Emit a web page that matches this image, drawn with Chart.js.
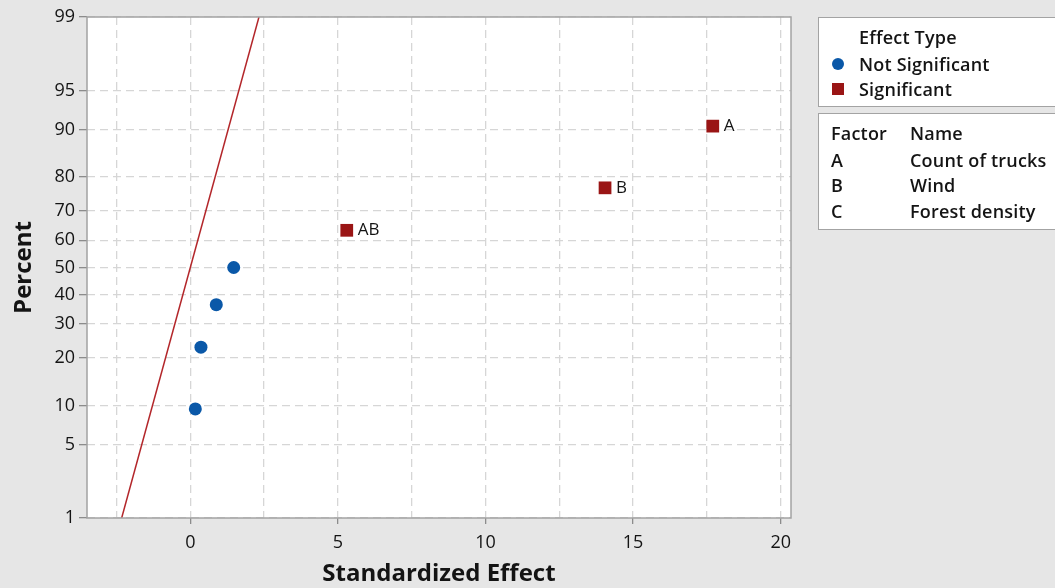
<!DOCTYPE html>
<html>
<head>
<meta charset="utf-8">
<script src="https://cdn.jsdelivr.net/npm/chart.js@4.4.1/dist/chart.umd.min.js"></script>
<style>
  html, body { margin: 0; padding: 0; background: #e6e6e6; }
  #wrap { position: relative; width: 1055px; height: 588px; overflow: hidden; font-family: "Open Sans", "Noto Sans", sans-serif; color: #141414; }
  #chart { position: absolute; left: 0; top: 0; }
  .box { position: absolute; left: 818px; width: 260px; background: #fff; border: 1.5px solid #a3a3a3; box-sizing: border-box; }
  .txt { position: absolute; font-size: 18px; font-weight: 600; line-height: 22px; white-space: nowrap; transform: translateY(-50%); letter-spacing: 0.2px; }
  .mk { position: absolute; transform: translate(-50%, -50%); }
</style>
</head>
<body>
<div id="wrap">
  <canvas id="chart" width="1055" height="588"></canvas>
  <div class="box" style="top:17px;height:90px;"></div>
  <div class="box" style="top:113px;height:117px;"></div>
  <div id="legend"></div>
</div>
<script>
// Standardized effects and their normal-probability percentages
const notSigEffect  = [0.17, 0.36, 0.88, 1.47];
const notSigPercent = [9.46, 22.97, 36.49, 50.0];
const sigEffect     = [5.30, 14.05, 17.70];
const sigPercent    = [63.51, 77.03, 90.54];
const sigLabels     = ['AB', 'B', 'A'];

// Reference line: standard normal, effect = z
const refEffect  = [-2.326, 2.326];
const refPercent = [1, 99];

// Axis ticks
const percentTicks = [1, 5, 10, 20, 30, 40, 50, 60, 70, 80, 90, 95, 99];
const effectTicks  = [-2.5, 0, 2.5, 5, 7.5, 10, 12.5, 15, 17.5, 20];

// Legend content
const effectTypes = ['Not Significant', 'Significant'];
const factorCodes = ['A', 'B', 'C'];
const factorNames = ['Count of trucks', 'Wind', 'Forest density'];

const BLUE = '#0a58a8';
const RED = '#9a1515';
const LINE_RED = '#b3262a';
const INK = '#141414';

// Inverse standard normal CDF (Acklam's rational approximation)
function probit(p) {
  const a = [-3.969683028665376e+01, 2.209460984245205e+02, -2.759285104469687e+02, 1.383577518672690e+02, -3.066479806614716e+01, 2.506628277459239e+00];
  const b = [-5.447609879822406e+01, 1.615858368580409e+02, -1.556989798598866e+02, 6.680131188771972e+01, -1.328068155288572e+01];
  const c = [-7.784894002430293e-03, -3.223964580411365e-01, -2.400758277161838e+00, -2.549732539343734e+00, 4.374664141464968e+00, 2.938163982698783e+00];
  const d = [7.784695709041462e-03, 3.224671290700398e-01, 2.445134137142996e+00, 3.754408661907416e+00];
  const pl = 0.02425;
  let q, r;
  if (p < pl) {
    q = Math.sqrt(-2 * Math.log(p));
    return (((((c[0]*q+c[1])*q+c[2])*q+c[3])*q+c[4])*q+c[5]) / ((((d[0]*q+d[1])*q+d[2])*q+d[3])*q+1);
  } else if (p <= 1 - pl) {
    q = p - 0.5; r = q * q;
    return (((((a[0]*r+a[1])*r+a[2])*r+a[3])*r+a[4])*r+a[5])*q / (((((b[0]*r+b[1])*r+b[2])*r+b[3])*r+b[4])*r+1);
  }
  q = Math.sqrt(-2 * Math.log(1 - p));
  return -(((((c[0]*q+c[1])*q+c[2])*q+c[3])*q+c[4])*q+c[5]) / ((((d[0]*q+d[1])*q+d[2])*q+d[3])*q+1);
}
function normCdf(z) {
  // Abramowitz-Stegun erf approximation
  const t = 1 / (1 + 0.3275911 * Math.abs(z) / Math.SQRT2);
  const y = 1 - (((((1.061405429*t - 1.453152027)*t) + 1.421413741)*t - 0.284496736)*t + 0.254829592)*t * Math.exp(-z*z/2);
  return z >= 0 ? (1 + y) / 2 : (1 - y) / 2;
}

// Normal probability scale: values are percentages, spaced by their normal quantiles
class ProbabilityScale extends Chart.Scale {
  determineDataLimits() {
    this.min = this.options.min;
    this.max = this.options.max;
  }
  buildTicks() {
    return percentTicks.map(v => ({ value: v }));
  }
  getLabelForValue(v) { return String(v); }
  configure() {
    super.configure();
    this._zMin = probit(this.min / 100);
    this._zMax = probit(this.max / 100);
  }
  getPixelForValue(v) {
    const z = probit(v / 100);
    return this.getPixelForDecimal((z - this._zMin) / (this._zMax - this._zMin));
  }
  getValueForPixel(px) {
    const z = this._zMin + this.getDecimalForPixel(px) * (this._zMax - this._zMin);
    return normCdf(z) * 100;
  }
}
ProbabilityScale.id = 'probability';
ProbabilityScale.defaults = {};
Chart.register(ProbabilityScale);

const zip = (xs, ys) => xs.map((x, i) => ({ x, y: ys[i] }));

// White plot area and a full frame around it
const frame = {
  id: 'frame',
  beforeDraw(chart) {
    const { ctx, chartArea: a } = chart;
    ctx.save();
    ctx.fillStyle = '#ffffff';
    ctx.fillRect(a.left, a.top, a.right - a.left, a.bottom - a.top);
    ctx.restore();
  },
  afterDatasetsDraw(chart) {
    const { ctx, chartArea: a } = chart;
    ctx.save();
    ctx.strokeStyle = '#a3a3a3';
    ctx.lineWidth = 1.5;
    ctx.strokeRect(a.left, a.top, a.right - a.left, a.bottom - a.top);
    ctx.restore();
  }
};

const FONT = '"Open Sans", "Noto Sans", sans-serif';

// Effect names beside the significant points
const pointNames = {
  id: 'pointNames',
  afterDatasetsDraw(chart) {
    const meta = chart.getDatasetMeta(1);
    const { ctx } = chart;
    ctx.save();
    ctx.font = '17px ' + FONT;
    ctx.fillStyle = INK;
    ctx.textBaseline = 'middle';
    meta.data.forEach((pt, i) => {
      ctx.fillText(sigLabels[i], pt.x + 11, pt.y);
    });
    ctx.restore();
  }
};

const GRID_DASH = [8, 5];

new Chart(document.getElementById('chart'), {
  type: 'scatter',
  data: {
    datasets: [
      {
        label: effectTypes[0],
        data: zip(notSigEffect, notSigPercent),
        pointStyle: 'circle',
        pointRadius: 6.5,
        pointBackgroundColor: BLUE,
        pointBorderWidth: 0,
        order: 1
      },
      {
        label: effectTypes[1],
        data: zip(sigEffect, sigPercent),
        pointStyle: 'rect',
        pointRadius: 9,
        pointBackgroundColor: RED,
        pointBorderWidth: 0,
        order: 1
      },
      {
        label: 'Reference',
        type: 'line',
        data: zip(refEffect, refPercent),
        borderColor: LINE_RED,
        borderWidth: 1.5,
        pointRadius: 0,
        fill: false,
        order: 2
      }
    ]
  },
  options: {
    responsive: false,
    animation: false,
    events: [],
    layout: { padding: { top: 17, right: 264, left: 0, bottom: 0 } },
    plugins: { legend: { display: false }, tooltip: { enabled: false } },
    scales: {
      x: {
        type: 'linear',
        min: -3.5,
        max: 20.35,
        afterBuildTicks: axis => { axis.ticks = effectTicks.map(v => ({ value: v })); },
        afterFit: axis => { axis.height = 70; },
        border: { display: false, dash: GRID_DASH },
        grid: {
          color: '#d6d6d6',
          lineWidth: 1.3,
          tickColor: ctx => (ctx.tick && ctx.tick.value % 5 === 0) ? '#8c8c8c' : 'rgba(0,0,0,0)',
          tickLength: 6,
          tickBorderDash: [],
          tickWidth: 1.3
        },
        ticks: {
          autoSkip: false,
          maxRotation: 0,
          padding: 8,
          color: INK,
          font: { family: FONT, size: 18 },
          callback: v => (v % 5 === 0 ? String(v) : '')
        },
        title: {
          display: true,
          text: 'Standardized Effect',
          color: INK,
          font: { family: FONT, size: 24, weight: 'bold' },
          padding: { top: 0, bottom: -1 }
        }
      },
      y: {
        type: 'probability',
        position: 'left',
        min: 1,
        max: 99,
        afterFit: axis => { axis.width = 87; },
        border: { display: false, dash: GRID_DASH },
        grid: {
          color: '#d6d6d6',
          lineWidth: 1.3,
          tickColor: '#8c8c8c',
          tickLength: 8,
          tickBorderDash: [],
          tickWidth: 1.3
        },
        ticks: {
          autoSkip: false,
          padding: 4,
          color: INK,
          font: { family: FONT, size: 18 },
          callback: v => String(v)
        },
        title: {
          display: true,
          text: 'Percent',
          color: INK,
          font: { family: FONT, size: 24, weight: 'bold' },
          padding: { top: 10, bottom: 0 }
        }
      }
    }
  },
  plugins: [frame, pointNames]
});

// Legend boxes
(function buildLegend() {
  const host = document.getElementById('legend');
  const add = (html) => host.insertAdjacentHTML('beforeend', html);
  add(`<div class="txt" style="left:859px;top:37px;">Effect Type</div>`);
  add(`<div class="mk" style="left:838px;top:64px;width:12px;height:12px;border-radius:50%;background:${BLUE};"></div>`);
  add(`<div class="txt" style="left:859px;top:64px;">${effectTypes[0]}</div>`);
  add(`<div class="mk" style="left:838px;top:89px;width:12px;height:12px;background:${RED};"></div>`);
  add(`<div class="txt" style="left:859px;top:89px;">${effectTypes[1]}</div>`);
  add(`<div class="txt" style="left:831px;top:133px;">Factor</div>`);
  add(`<div class="txt" style="left:910px;top:133px;">Name</div>`);
  const rows = [160, 185, 211];
  factorCodes.forEach((c, i) => {
    add(`<div class="txt" style="left:831px;top:${rows[i]}px;">${c}</div>`);
    add(`<div class="txt" style="left:910px;top:${rows[i]}px;">${factorNames[i]}</div>`);
  });
})();
</script>
</body>
</html>
